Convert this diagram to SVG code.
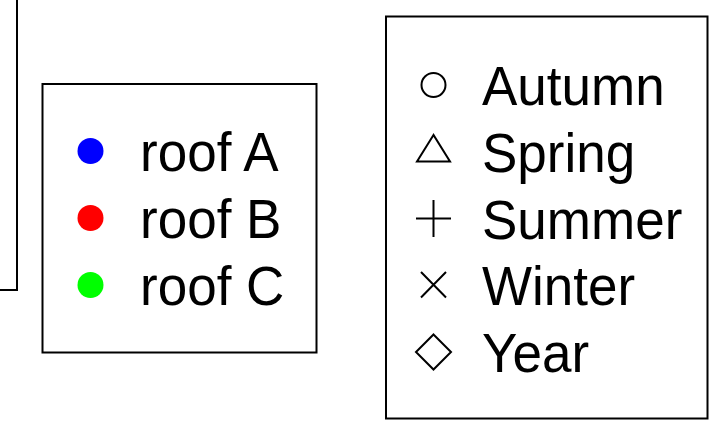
<svg xmlns="http://www.w3.org/2000/svg" width="726" height="426" viewBox="0 0 726 426">
<style>
.box{fill:#fff;stroke:#000;stroke-width:2}
.lbl{font-family:"Liberation Sans",Arial,sans-serif;font-size:52px;fill:#000}
.sym{fill:none;stroke:#000;stroke-width:2}
</style>
<rect x="0" y="0" width="726" height="426" fill="#fff"/>
<g id="partial-box">
<polyline class="sym" points="17,0 17,290 0,290"/>
</g>
<g id="legend-roof">
<rect class="box" x="42.5" y="84" width="274" height="268.5"/>
<circle cx="90.5" cy="151" r="13" fill="#0000ff"/>
<text class="lbl" transform="translate(140,171) scale(1.02,1.08)">roof A</text>
<circle cx="90.5" cy="218" r="13" fill="#ff0000"/>
<text class="lbl" transform="translate(140,238) scale(1.02,1.08)">roof B</text>
<circle cx="90.5" cy="285" r="13" fill="#00ff00"/>
<text class="lbl" transform="translate(140,305) scale(1.02,1.08)">roof C</text>
</g>
<g id="legend-season">
<rect class="box" x="386" y="16.5" width="321.5" height="402"/>
<circle class="sym" cx="433.5" cy="85" r="12"/>
<text class="lbl" transform="translate(482,105) scale(1.02,1.08)">Autumn</text>
<polygon class="sym" points="433.5,135 417,161.5 450,161.5"/>
<text class="lbl" transform="translate(482,172) scale(1.02,1.08)">Spring</text>
<path class="sym" d="M416,218.5H451M433.5,200V237"/>
<text class="lbl" transform="translate(482,238.5) scale(1.02,1.08)">Summer</text>
<path class="sym" d="M421,272L446,297.5M446,272L421,297.5"/>
<text class="lbl" transform="translate(482,305) scale(1.02,1.08)">Winter</text>
<polygon class="sym" points="433.5,334.5 451,352 433.5,369.5 416,352"/>
<text class="lbl" transform="translate(482,372) scale(1.02,1.08)">Year</text>
</g>
</svg>
